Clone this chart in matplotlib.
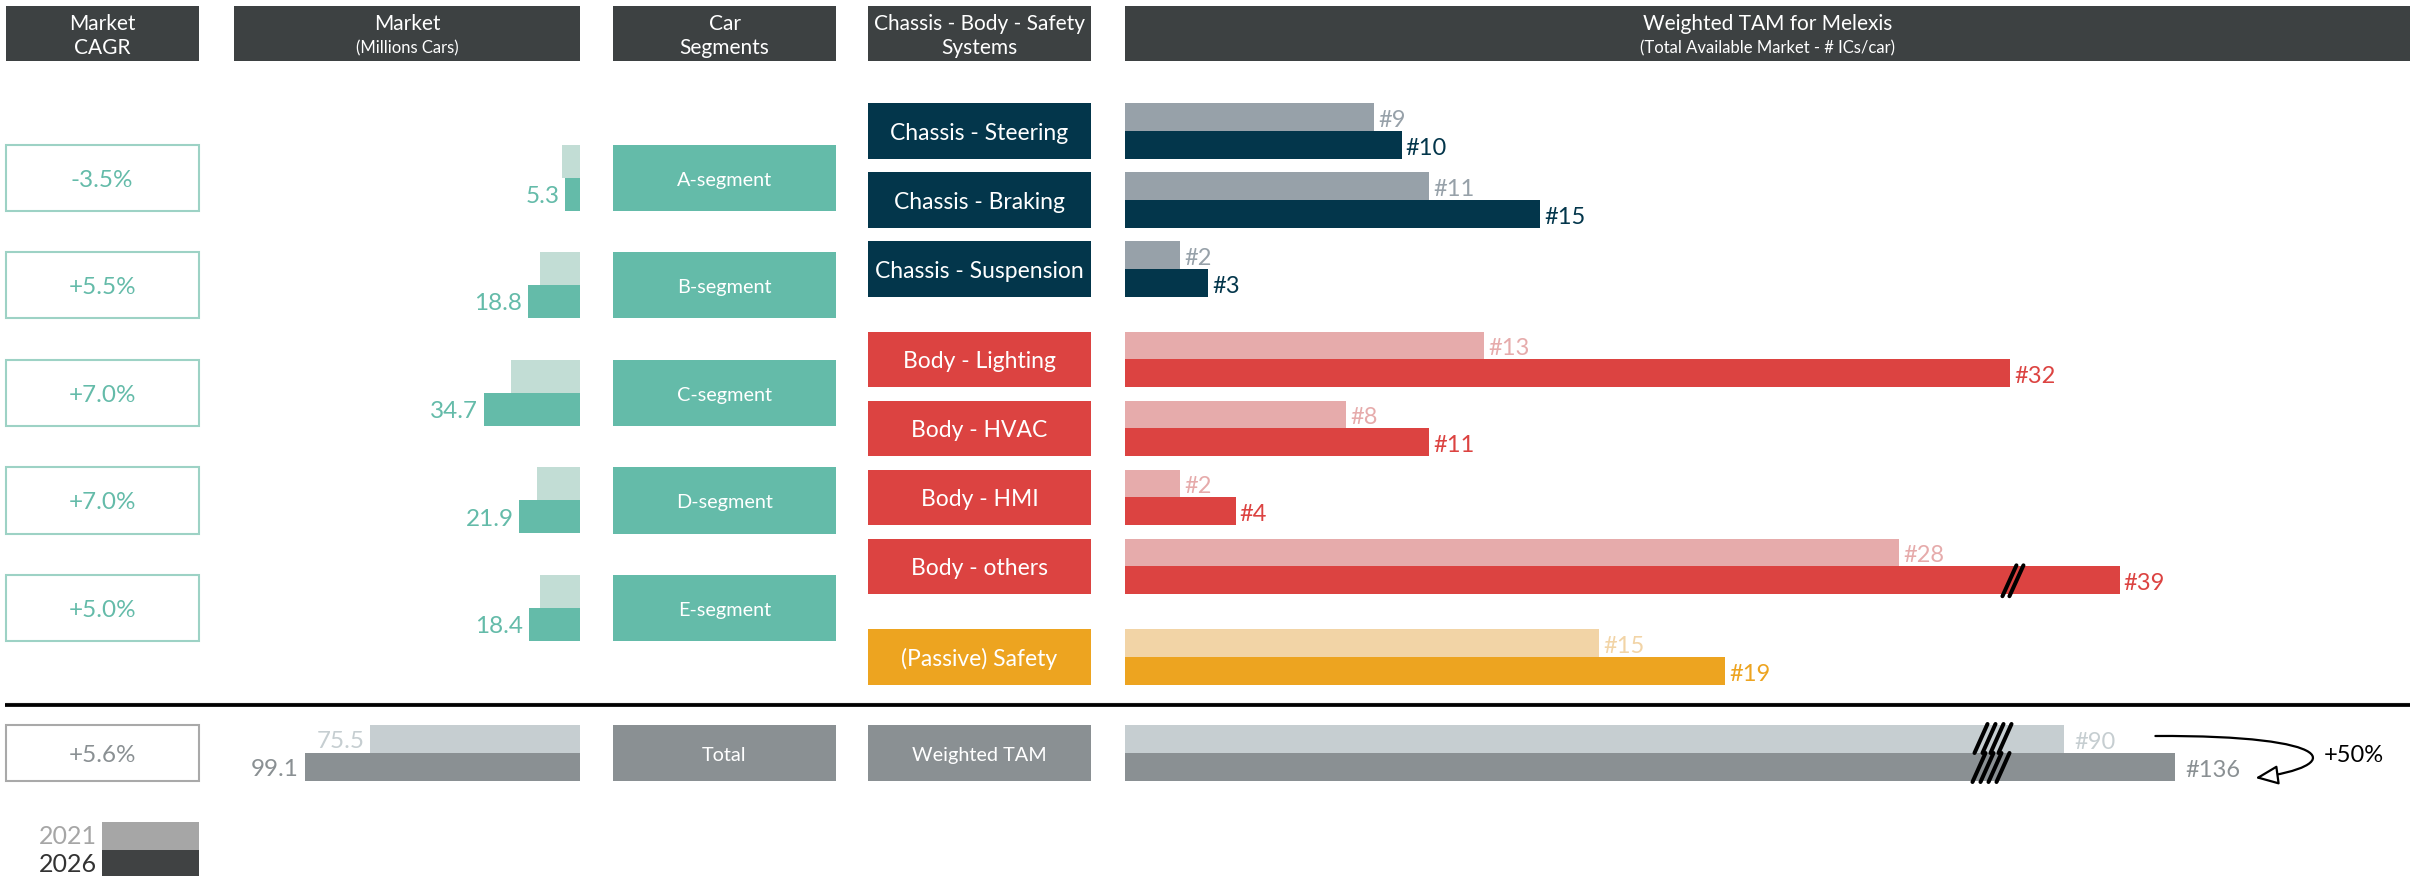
import numpy as np
import matplotlib
matplotlib.use("Agg")
import matplotlib.pyplot as plt
from matplotlib.patches import Rectangle, FancyArrowPatch
from matplotlib.path import Path

plt.rcParams['font.family'] = ['Lato', 'DejaVu Sans']

# ---- data ----
segments = ['A-segment', 'B-segment', 'C-segment', 'D-segment', 'E-segment']
cagr = ['-3.5%', '+5.5%', '+7.0%', '+7.0%', '+5.0%']
market_2021 = [6.3, 14.4, 24.7, 15.6, 14.4]
market_2026 = [5.3, 18.8, 34.7, 21.9, 18.4]
total_cagr = '+5.6%'
market_total_2021 = 75.5
market_total_2026 = 99.1

systems = ['Chassis - Steering', 'Chassis - Braking', 'Chassis - Suspension',
           'Body - Lighting', 'Body - HVAC', 'Body - HMI', 'Body - others',
           '(Passive) Safety']
system_group = [0, 0, 0, 1, 1, 1, 1, 2]
tam_2021 = [9, 11, 2, 13, 8, 2, 28, 15]
tam_2026 = [10, 15, 3, 32, 11, 4, 39, 19]
tam_total_2021 = 90
tam_total_2026 = 136
tam_growth = '+50%'
years = ['2021', '2026']

# ---- colours ----
HEAD = '#3d4142'
TEAL, TEAL_L = '#64bba9', '#c2ddd5'
GROUP_DARK = ['#03364b', '#dc4341', '#eda420']
GROUP_LIGHT = ['#97a1a9', '#e6abab', '#f2d4a6']
TOT_DARK, TOT_LIGHT = '#8a9093', '#c6ced1'

W, H = 2410, 876
fig = plt.figure(figsize=(W / 100, H / 100), dpi=100)
bg = fig.add_axes([0, 0, 1, 1])
bg.set_xlim(0, W)
bg.set_ylim(H, 0)
bg.axis('off')

# layout (pixels)
col_cagr = (5.5, 199)
col_mkt = (234, 580)
col_seg = (613, 836)
col_sys = (868, 1091)
col_tam = (1125, W)
head_y = (6, 61)
seg_top0, seg_step, seg_h = 144.5, 107.6, 66.2
sys_top0, sys_step, sys_h, sys_gap = 103, 69, 55.7, 21.5
tot_top, tot_h = 725, 56
sep_y = 705
dy_txt = 2.5  # optical centring of text in boxes

seg_tops = [seg_top0 + i * seg_step for i in range(len(segments))]
sys_tops = [sys_top0 + i * sys_step + g * sys_gap for i, g in enumerate(system_group)]


def box(x, y0, h, fc, ec=None, lw=0):
    bg.add_patch(Rectangle((x[0], y0), x[1] - x[0], h, facecolor=fc,
                           edgecolor=ec if ec else fc, lw=lw))


def ctext(x, yc, s, **kw):
    bg.text((x[0] + x[1]) / 2, yc + dy_txt, s, ha='center', va='center', **kw)


# ---- headers ----
headers = [(col_cagr, 'Market', 'CAGR', 15), (col_mkt, 'Market', '(Millions Cars)', 12),
           (col_seg, 'Car', 'Segments', 15), (col_sys, 'Chassis - Body - Safety', 'Systems', 15),
           (col_tam, 'Weighted TAM for Melexis', '(Total Available Market - # ICs/car)', 12)]
for col, t1, t2, fs2 in headers:
    box(col, head_y[0], head_y[1] - head_y[0], HEAD)
    ctext(col, 21.5, t1, color='white', fontsize=15)
    ctext(col, 46, t2, color='white', fontsize=fs2)

# ---- CAGR + segment boxes ----
for top, c, s in zip(seg_tops, cagr, segments):
    box(col_cagr, top, seg_h, 'white', ec='#9dd2c5', lw=1.5)
    ctext(col_cagr, top + seg_h / 2, c, color=TEAL, fontsize=17.5)
    box(col_seg, top, seg_h, TEAL)
    ctext(col_seg, top + seg_h / 2, s, color='white', fontsize=14.3)

# ---- system boxes ----
for top, s, g in zip(sys_tops, systems, system_group):
    box(col_sys, top, sys_h, GROUP_DARK[g])
    ctext(col_sys, top + sys_h / 2, s, color='white', fontsize=16.5)

# ---- separator ----
bg.plot([5, W], [sep_y - 2.5, sep_y - 2.5], color='#c8c8c8', lw=1.0, solid_capstyle='butt')
bg.plot([5, W], [sep_y, sep_y], color='black', lw=2.7, solid_capstyle='butt')

# ---- total row boxes ----
box(col_cagr, tot_top, tot_h, 'white', ec='#a9a9a9', lw=1.5)
ctext(col_cagr, tot_top + tot_h / 2, total_cagr, color=TOT_DARK, fontsize=17.5)
box(col_seg, tot_top, tot_h, TOT_DARK)
ctext(col_seg, tot_top + tot_h / 2, 'Total', color='white', fontsize=14.3)
box(col_sys, tot_top, tot_h, TOT_DARK)
ctext(col_sys, tot_top + tot_h / 2, 'Weighted TAM', color='white', fontsize=14.3)

# ---- market bars (grow to the left) ----
mkt_px = 2.78
axm = fig.add_axes([0, 0, col_mkt[1] / W, 1])
axm.set_xlim(col_mkt[1] / mkt_px, 0)
axm.set_ylim(H, 0)
axm.axis('off')
axm.patch.set_alpha(0)
hh = seg_h / 2
y21 = [t + hh / 2 for t in seg_tops]
y26 = [t + hh * 1.5 for t in seg_tops]
axm.barh(y21, market_2021, height=hh, color=TEAL_L)
axm.barh(y26, market_2026, height=hh, color=TEAL)
for y, v in zip(y26, market_2026):
    axm.annotate(f'{v:.1f}', (v, y), xytext=(-4, -1.5), textcoords='offset points',
                 ha='right', va='center', color=TEAL, fontsize=17.5)
th = tot_h / 2
axm.barh(tot_top + th / 2, market_total_2021, height=th, color=TOT_LIGHT)
axm.barh(tot_top + th * 1.5, market_total_2026, height=th, color=TOT_DARK)
axm.annotate(f'{market_total_2021:.1f}', (market_total_2021, tot_top + th / 2), xytext=(-4, -1.5),
             textcoords='offset points', ha='right', va='center', color=TOT_LIGHT, fontsize=17.5)
axm.annotate(f'{market_total_2026:.1f}', (market_total_2026, tot_top + th * 1.5), xytext=(-4, -1.5),
             textcoords='offset points', ha='right', va='center', color=TOT_DARK, fontsize=17.5)


# ---- TAM bars with broken scales ----
def broken(brk, ratio):
    def fwd(x):
        x = np.asarray(x, float)
        return np.where(x <= brk, x, brk + (x - brk) * ratio)

    def inv(y):
        y = np.asarray(y, float)
        return np.where(y <= brk, y, brk + (y - brk) / ratio)
    return fwd, inv


tam_w = col_tam[1] - col_tam[0]
tam_rect = [col_tam[0] / W, 0, tam_w / W, 1]


def tam_axes(k, brk, ratio):
    ax = fig.add_axes(tam_rect)
    fwd, inv = broken(brk, ratio)
    ax.set_xscale('function', functions=(fwd, inv))
    ax.set_xlim(0, float(inv(tam_w / k)))
    ax.set_ylim(H, 0)
    ax.axis('off')
    ax.patch.set_alpha(0)
    return ax


# the safety row is drawn on a slightly wider scale in the original
group_px = [27.65, 27.65, 31.6]
group_ax = {}
for g in sorted(set(system_group)):
    k = group_px[g]
    if k not in group_ax:
        group_ax[k] = tam_axes(k, 32, 0.567)

sh = sys_h / 2
for top, a, b, g in zip(sys_tops, tam_2021, tam_2026, system_group):
    ax = group_ax[group_px[g]]
    ax.barh(top + sh / 2, a, height=sh, color=GROUP_LIGHT[g])
    ax.barh(top + sh * 1.5, b, height=sh, color=GROUP_DARK[g])
    ax.annotate(f'#{a}', (a, top + sh / 2), xytext=(3, -2.5), textcoords='offset points',
                ha='left', va='center', color=GROUP_LIGHT[g], fontsize=17)
    ax.annotate(f'#{b}', (b, top + sh * 1.5), xytext=(3, -2.5), textcoords='offset points',
                ha='left', va='center', color=GROUP_DARK[g], fontsize=17)

axs = tam_axes(14.45, 60, 0.167)
axs.barh(tot_top + th / 2, tam_total_2021, height=th, color=TOT_LIGHT)
axs.barh(tot_top + th * 1.5, tam_total_2026, height=th, color=TOT_DARK)
axs.annotate(f'#{tam_total_2021}', (tam_total_2021, tot_top + th / 2), xytext=(7, -2.5),
             textcoords='offset points', ha='left', va='center', color=TOT_LIGHT, fontsize=17)
axs.annotate(f'#{tam_total_2026}', (tam_total_2026, tot_top + th * 1.5), xytext=(7, -2.5),
             textcoords='offset points', ha='left', va='center', color=TOT_DARK, fontsize=17)

# ---- overlay for break marks and the growth arrow ----
ov = fig.add_axes([0, 0, 1, 1])
ov.set_xlim(0, W)
ov.set_ylim(H, 0)
ov.axis('off')
ov.patch.set_alpha(0)


def to_ov(ax, x, y):
    return ov.transData.inverted().transform(ax.transData.transform((x, y)))


def break_marks(ax, xv, ytop, ybot, n, dx, step, shift=0):
    cx, _ = to_ov(ax, xv, ytop)
    for i in range(n):
        x0 = cx + shift + (i - (n - 1) / 2) * step
        ov.plot([x0 - dx / 2, x0 + dx / 2], [ybot, ytop], color='black', lw=2.9,
                solid_capstyle='round')


i_brk = systems.index('Body - others')
break_marks(group_ax[group_px[1]], 32.2, sys_tops[i_brk] + sh - 1, sys_tops[i_brk] + sys_h + 2, 2, 14, 7)
break_marks(axs, 60, tot_top - 1, tot_top + th, 4, 13, 8, shift=1)
break_marks(axs, 60, tot_top + th, tot_top + tot_h + 1, 4, 13, 8, shift=-1)

# growth arrow from "#90" to "#136"
sx, sy = to_ov(axs, tam_total_2021, tot_top + th / 2)
ex, ey = to_ov(axs, tam_total_2026, tot_top + th * 1.5)
p0 = (sx + 91, sy - 3)
p3 = (ex + 80, ey + 11)
arc = Path([p0, (p0[0] + 185, p0[1] - 1), (p0[0] + 190, p3[1] - 12), p3],
           [Path.MOVETO, Path.CURVE4, Path.CURVE4, Path.CURVE4])
ov.add_patch(FancyArrowPatch(path=arc, arrowstyle='-|>,head_length=14,head_width=6',
                             facecolor='white', edgecolor='black', lw=1.6))
ov.text(p0[0] + 168, (sy + ey) / 2 + 2, tam_growth, ha='left', va='center', color='black', fontsize=17)

# ---- legend ----
leg_x = (102, 199)
box(leg_x, 822, 28, '#a6a6a6')
box(leg_x, 850, 27, '#404243')
bg.text(97, 837, years[0], ha='right', va='center', color='#a6a6a6', fontsize=18)
bg.text(97, 864, years[1], ha='right', va='center', color='#333333', fontsize=18)

fig.savefig('out.png', dpi=100)
